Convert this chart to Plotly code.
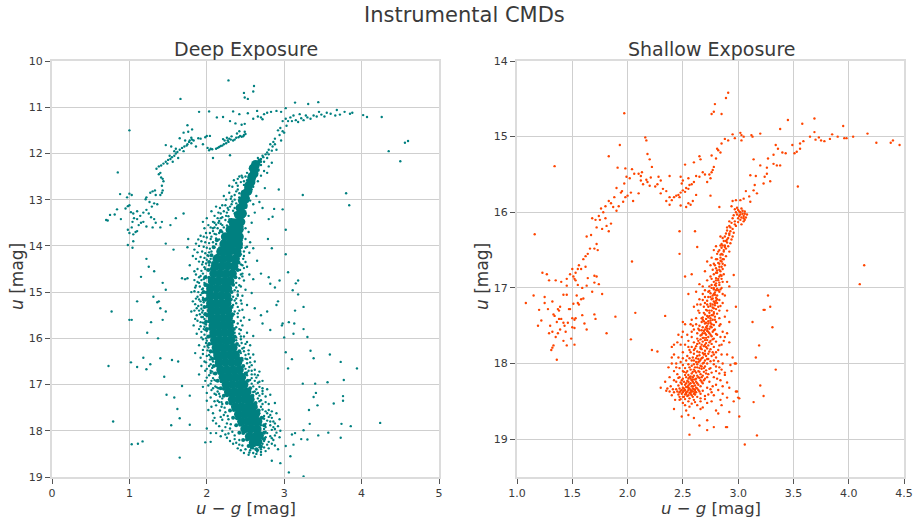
import plotly.graph_objects as go

# Every pair below.
# The saturated cores cannot be resolved into single stars, so they are given
# as hand-read band samples drawn with larger markers (deep_core, deep_mid).

deep_upper = [
(2.28,10.42),(2.61,10.54),(2.60,10.66),(2.48,10.69),(2.49,10.79),(2.53,10.82),(1.66,10.82),(3.14,10.90),(3.02,11.02),
(1.90,11.10),(2.03,11.09),(2.34,11.09),(2.65,11.08),(2.53,11.13),(2.42,11.15),(2.13,11.22),(2.21,11.21),(1.75,11.39),(2.30,11.30),(2.37,11.35),
(2.45,11.38),(2.49,11.36),(2.60,11.25),(2.70,11.22),(2.74,11.15),(2.78,11.12),(2.83,11.10),(2.90,11.08),(2.96,11.10),(2.72,11.26),(2.66,11.20),
(1.76,11.53),(1.70,11.55),(1.81,11.48),(1.65,11.67),(1.72,11.72),(1.54,11.85),(1.47,11.82),(1.00,11.50),(0.85,12.41),
(2.49,11.53),(2.50,11.58),(2.48,11.60),(2.47,11.63),(2.45,11.64),(2.43,11.62),(2.41,11.65),(2.38,11.66),(2.36,11.70),(2.34,11.72),(2.31,11.70),
(2.29,11.68),(2.27,11.72),(2.25,11.78),(2.28,11.75),(2.22,11.80),(2.20,11.83),(2.18,11.84),(2.16,11.86),(2.14,11.88),(2.12,11.90),(2.23,11.72),
(2.21,11.69),(2.26,11.66),(2.32,11.63),(2.39,11.57),(2.42,11.52),(2.07,11.91),(2.05,11.90),(2.03,11.93),(2.01,11.88),(2.08,12.10),(2.30,12.04),
(2.00,11.62),(2.04,11.62),(1.98,11.65),(1.92,11.68),(1.89,11.67),(1.83,11.72),(1.81,11.70),(1.80,11.66),(1.78,11.72),(1.77,11.75),(1.75,11.80),
(1.74,11.83),(1.71,11.85),(1.68,11.88),(1.65,11.92),(1.62,11.97),(1.60,12.00),(1.58,12.05),(1.55,12.08),(1.53,12.12),(1.50,12.14),(1.47,12.18),
(1.44,12.22),(1.41,12.26),(1.38,12.28),(1.35,12.33),(1.52,12.05),(1.58,11.95),(1.63,12.10),(1.56,12.18),(1.49,12.22),(1.95,11.80),(1.86,11.85),(1.80,11.78),(1.70,11.95),(1.60,11.90),
(1.40,12.42),(1.38,12.45),(1.41,12.52),(1.43,12.55),(1.44,12.60),(1.42,12.70),(1.43,12.80),(1.42,12.85),(1.40,12.90),(1.33,12.80),(1.30,12.82),
(1.27,12.85),(1.34,12.90),(1.22,12.95),(1.21,12.99),(1.26,13.05),(1.32,13.08),(1.29,13.15),(1.36,13.10),(0.88,12.88),(0.97,12.95),(1.00,12.87),(1.03,12.90),
(0.95,13.19),(1.00,13.12),(0.98,13.14),(1.02,13.27),(1.05,13.30),(1.10,13.25),(1.14,13.35),(1.18,13.28),(1.22,13.22),(1.25,13.30),(1.28,13.38),(1.32,13.42),
(1.06,13.40),(1.04,13.48),(1.10,13.42),(1.15,13.50),(1.18,13.48),(1.22,13.58),(1.12,13.55),(1.30,13.60),(1.34,13.50),(1.03,13.60),(0.98,13.65),(1.00,13.72),(1.05,13.75),(1.08,13.70),(1.10,13.68),
(0.70,13.44),(0.72,13.45),(0.75,13.33),(0.81,13.32),(0.84,13.21),(0.89,13.42),(0.98,13.98),(1.05,13.90),(1.04,14.04),(1.40,13.60),
(1.42,13.48),(1.53,13.55),(1.60,13.40),(1.70,13.30),(1.95,13.48),(1.76,13.85),(1.47,13.95),(1.57,14.08),(1.75,14.03),(3.02,13.65),(2.85,13.37),(2.80,13.42),(2.98,13.21),
(2.84,14.05),(2.79,13.85),(2.87,13.20),(2.58,12.78),(2.93,12.78),(2.75,12.75),(2.68,13.05),(2.72,13.18),
(3.10,11.30),(3.18,11.32),(3.25,11.28),(3.30,11.22),(3.38,11.18),(3.45,11.10),(3.52,11.20),(3.60,11.14),(3.66,11.18),(3.72,11.16),(3.78,11.10),(3.85,11.14),(3.88,11.12),(3.20,11.15),(3.31,10.93),(3.44,10.89),(3.68,11.06),
(4.02,11.17),(4.07,11.21),(4.26,11.21),(4.35,11.95),(4.50,12.17),(4.56,11.77),(4.60,11.73),(3.80,12.86),(3.84,13.12),(3.24,12.90),(3.03,11.40),(3.00,11.55),
(2.95,11.45),(2.92,11.50),(2.98,11.30),(3.02,11.25),(2.94,11.60),(2.88,11.68),(2.86,11.75),(2.82,11.80),(2.85,11.85),(2.80,11.92),(2.78,11.98),(2.76,12.02),(2.72,12.05),(2.78,12.10),(2.70,12.12),(2.68,12.20),(2.74,12.18),(2.70,12.25),(2.62,12.28),(2.60,12.35),
(2.58,12.40),(2.55,12.45),(2.50,12.50),(2.45,12.48),(2.42,12.50),(2.48,12.60),(2.40,12.70),(2.38,12.82),(2.32,12.93),(2.28,13.22),(2.22,13.25),(2.25,13.35),(2.18,13.40),(2.15,13.50),(2.10,13.60),(2.08,13.68),(2.12,13.75),(2.05,13.85),(2.20,13.55),(2.28,13.48),
]

deep_halo = [
(1.78,14.42),(1.84,14.55),(1.92,14.65),(1.95,14.35),(2.02,14.22),(2.06,14.12),(2.00,14.30),(1.98,14.50),(1.90,14.80),(1.85,14.90),(1.80,15.00),(1.88,15.10),(1.82,15.20),(1.94,15.02),(1.96,15.22),(1.87,15.35),(1.80,15.42),(1.91,15.48),(1.85,15.58),(1.92,15.65),(1.95,15.40),
(1.83,15.72),(1.90,15.80),(1.97,15.75),(1.87,15.90),(1.93,15.98),(2.00,16.05),(1.90,16.15),(1.95,16.25),(2.02,16.20),(1.85,16.32),(1.92,16.42),(1.97,16.50),(2.05,16.40),(1.93,16.60),(1.98,16.70),(2.05,16.75),(1.90,16.78),(2.00,16.85),(2.06,16.92),(1.95,17.05),
(2.00,17.18),(2.05,17.28),(2.10,17.20),(2.08,17.08),(2.14,17.15),(2.00,17.35),(2.02,17.55),(2.08,17.62),(2.12,17.45),(2.16,17.38),(2.20,17.42),(2.24,17.60),(2.10,17.72),(2.18,17.70),(2.28,17.75),(2.00,17.95),(2.05,18.05),(2.12,18.05),(2.18,18.12),(2.26,18.15),(2.30,17.95),(1.98,18.25),(2.05,18.24),(2.36,18.18),(2.42,18.30),
(2.32,14.05),(2.48,14.22),(2.50,14.35),(2.52,14.45),(2.46,14.60),(2.55,14.62),(2.60,14.72),(2.48,14.75),(2.42,14.85),(2.50,14.95),(2.58,15.02),(2.40,15.05),(2.36,15.18),(2.45,15.25),(2.52,15.28),(2.62,15.35),(2.42,15.40),(2.35,15.48),(2.48,15.55),(2.55,15.60),
(2.40,15.68),(2.32,15.75),(2.44,15.82),(2.52,15.88),(2.60,15.95),(2.38,15.98),(2.45,16.10),(2.56,16.15),(2.36,16.22),(2.48,16.28),(2.60,16.35),(2.42,16.42),(2.52,16.45),(2.62,16.50),(2.48,16.60),(2.58,16.70),(2.68,16.72),(2.52,16.80),(2.64,16.85),(2.72,16.92),
(2.58,16.98),(2.68,17.05),(2.78,17.10),(2.62,17.15),(2.72,17.20),(2.82,17.22),(2.66,17.30),(2.76,17.38),(2.88,17.40),(2.70,17.48),(2.80,17.55),(2.90,17.62),(2.74,17.68),(2.84,17.72),(2.94,17.75),(2.76,17.85),(2.86,17.92),(2.95,18.00),(2.78,18.05),(2.88,18.10),(2.74,18.22),(2.84,18.28),(2.80,18.38),(2.65,18.45),(2.55,18.47),(2.70,18.52),
(2.26,14.10),(2.38,14.28),(2.15,14.95),(1.75,14.70),(1.72,14.72),(1.68,14.70),(2.55,14.15),(2.65,14.32),(2.70,14.60),(2.80,14.68),(2.82,14.82),(2.88,14.90),(2.94,14.75),(2.92,15.20),(2.90,15.28),(2.78,15.42),(2.70,15.50),(2.72,15.68),(2.82,15.82),(2.98,15.68),
]

# second reading of the crowded halo, band by band from the top of the sequence down
deep_halo_dense = [
(2.62,12.22),(2.66,12.30),(2.70,12.18),(2.64,12.40),(2.56,12.32),(2.52,12.42),(2.60,12.48),(2.48,12.68),(2.44,12.62),(2.52,12.58),(2.40,12.78),(2.46,12.82),(2.50,12.74),(2.36,12.90),(2.42,12.95),(2.48,12.98),(2.33,13.04),(2.38,13.08),(2.30,13.15),(2.36,13.18),
(2.26,13.28),(2.34,13.24),(2.20,13.38),(2.28,13.36),(2.16,13.46),(2.24,13.44),(2.32,13.42),(2.12,13.54),(2.18,13.52),(2.26,13.56),(2.08,13.62),(2.14,13.62),(2.22,13.60),(2.28,13.63),(2.04,13.72),(2.10,13.74),(2.16,13.72),(2.20,13.70),(2.00,13.82),(2.06,13.80),(2.12,13.84),(2.16,13.86),
(1.98,13.92),(2.03,13.94),(2.08,13.92),(2.12,13.96),(1.96,14.02),(2.00,14.04),(2.04,14.06),(2.08,14.02),(1.94,14.12),(1.98,14.16),(2.03,14.14),(1.92,14.24),(1.97,14.26),(2.01,14.20),(2.05,14.28),(1.90,14.34),(1.94,14.40),(1.99,14.38),(2.03,14.42),(1.88,14.50),(1.93,14.54),(1.97,14.46),(2.01,14.52),
(1.86,14.62),(1.90,14.68),(1.95,14.60),(1.99,14.66),(1.84,14.74),(1.88,14.78),(1.93,14.74),(1.97,14.80),(1.86,14.86),(1.91,14.88),(1.95,14.92),(1.98,14.86),(1.84,14.98),(1.89,15.00),(1.92,15.06),(1.97,15.00),(1.86,15.14),(1.90,15.16),(1.95,15.12),(1.98,15.18),
(1.85,15.26),(1.89,15.30),(1.93,15.28),(1.97,15.32),(1.84,15.40),(1.90,15.40),(1.94,15.44),(1.98,15.46),(1.87,15.50),(1.93,15.54),(1.97,15.58),(2.00,15.52),(1.88,15.62),(1.95,15.66),(1.99,15.70),(1.92,15.74),(1.96,15.80),(2.00,15.84),(1.93,15.86),(1.97,15.92),(2.02,15.96),
(1.95,16.02),(1.99,16.10),(2.03,16.12),(1.97,16.18),(2.01,16.26),(2.05,16.30),(1.95,16.34),(2.00,16.38),(2.04,16.46),(2.08,16.50),(1.99,16.52),(2.03,16.60),(2.07,16.64),(2.00,16.66),(2.05,16.70),(2.09,16.76),(2.03,16.80),(2.08,16.86),(2.12,16.92),(2.05,16.98),(2.11,17.04),(2.15,17.08),
(2.12,17.22),(2.17,17.26),(2.20,17.30),(2.14,17.35),(2.19,17.48),(2.23,17.50),(2.17,17.56),(2.22,17.66),(2.27,17.68),(2.20,17.76),(2.26,17.84),(2.31,17.86),(2.24,17.92),(2.33,18.02),(2.36,18.10),(2.28,18.06),(2.42,18.20),(2.38,18.26),(2.46,18.32),(2.50,18.40),(2.56,18.42),(2.60,18.48),(2.64,18.50),(2.66,18.42),(2.70,18.40),
(2.30,14.16),(2.44,14.18),(2.47,14.28),(2.44,14.40),(2.48,14.48),(2.43,14.52),(2.46,14.66),(2.42,14.70),(2.38,14.80),(2.44,14.88),(2.36,14.96),(2.40,14.98),(2.46,15.08),(2.34,15.10),(2.38,15.14),(2.44,15.18),(2.34,15.28),(2.40,15.32),(2.46,15.38),(2.36,15.42),
(2.33,15.52),(2.40,15.54),(2.44,15.62),(2.35,15.64),(2.38,15.76),(2.46,15.72),(2.36,15.88),(2.42,15.90),(2.48,15.96),(2.38,16.04),(2.44,16.02),(2.50,16.12),(2.42,16.16),(2.48,16.20),(2.54,16.26),(2.44,16.32),(2.50,16.36),(2.56,16.42),(2.46,16.48),(2.52,16.54),(2.58,16.58),
(2.50,16.66),(2.55,16.62),(2.62,16.68),(2.52,16.74),(2.58,16.78),(2.66,16.80),(2.56,16.90),(2.62,16.92),(2.68,16.94),(2.60,17.04),(2.64,17.10),(2.72,17.08),(2.64,17.20),(2.68,17.24),(2.76,17.26),(2.68,17.36),(2.72,17.42),(2.80,17.42),(2.72,17.54),(2.76,17.58),(2.84,17.58),
(2.74,17.74),(2.80,17.70),(2.86,17.80),(2.76,17.92),(2.82,17.88),(2.88,17.96),(2.76,18.02),(2.82,18.12),(2.76,18.14),(2.72,18.28),(2.78,18.30),(2.84,18.16),(2.68,18.36),(2.74,18.36),
]

# third reading: the speckled zone right next to the solid core
deep_mid = [
(2.68,12.15),(2.64,12.22),(2.66,12.36),(2.60,12.40),(2.56,12.60),(2.60,12.58),(2.50,12.80),(2.54,12.76),(2.44,13.02),(2.52,13.03),(2.41,13.14),(2.50,13.16),(2.37,13.30),(2.47,13.36),(2.30,13.44),(2.36,13.56),(2.45,13.58),
(2.18,13.68),(2.28,13.74),(2.42,13.72),(2.13,13.88),(2.21,13.90),(2.32,13.88),(2.44,13.88),(2.09,14.03),(2.17,14.05),(2.27,14.02),(2.44,14.03),(2.06,14.20),(2.14,14.21),(2.42,14.20),(2.03,14.35),(2.08,14.37),(2.41,14.36),(2.02,14.52),(2.06,14.50),(2.40,14.52),
(1.98,14.68),(2.03,14.69),(2.37,14.68),(1.98,14.84),(2.01,14.85),(2.34,14.84),(1.96,15.00),(2.00,15.01),(2.32,15.00),(1.96,15.16),(2.00,15.15),(2.31,15.16),(1.97,15.32),(2.01,15.31),(2.32,15.32),(1.98,15.48),(2.02,15.49),(2.33,15.48),
(1.99,15.64),(2.03,15.63),(2.34,15.64),(2.00,15.80),(2.04,15.79),(2.35,15.80),(2.02,15.96),(2.05,15.95),(2.36,15.96),(2.03,16.12),(2.07,16.11),(2.39,16.12),(2.05,16.28),(2.09,16.29),(2.42,16.28),(2.07,16.44),(2.11,16.43),(2.45,16.44),
(2.09,16.60),(2.13,16.59),(2.47,16.60),(2.11,16.76),(2.16,16.75),(2.50,16.76),(2.14,16.92),(2.19,16.93),(2.53,16.92),(2.18,17.08),(2.22,17.09),(2.56,17.08),(2.22,17.24),(2.26,17.23),(2.59,17.24),(2.26,17.40),(2.31,17.41),(2.63,17.40),
(2.30,17.56),(2.35,17.55),(2.67,17.56),(2.34,17.72),(2.39,17.73),(2.71,17.72),(2.38,17.88),(2.43,17.87),(2.74,17.88),(2.42,18.04),(2.47,18.05),(2.74,18.04),(2.47,18.20),(2.52,18.19),(2.74,18.18),(2.54,18.33),(2.58,18.36),(2.70,18.34),(2.64,18.40),
]

# isolated dots in the wedge at u = 13 to 14.2, left of the upper branch, and beside the branch
deep_wedge = [
(2.40,12.55),(2.33,12.72),(2.29,12.85),(2.25,13.00),(2.20,13.12),(2.32,13.10),(2.27,13.18),(2.15,13.28),(2.10,13.35),(2.18,13.30),(2.08,13.48),(2.02,13.55),(1.97,13.62),(2.05,13.60),(1.99,13.72),(1.92,13.78),(1.96,13.80),(1.89,13.86),(1.93,13.90),(1.86,13.95),
(1.90,14.00),(1.84,14.08),(1.88,14.14),(1.82,14.22),(1.86,14.28),(2.24,13.12),(2.36,13.00),(2.31,12.98),(2.42,12.86),(2.38,12.64),(2.46,12.52),(2.35,12.58),(2.29,12.70),(2.22,12.92),(2.17,13.18),(2.12,13.15),(2.06,13.25),(2.00,13.40),(2.14,13.40),(2.10,13.50),
(2.50,13.62),(2.54,13.70),(2.50,13.85),(2.56,13.92),(2.52,14.02),(2.60,14.05),(2.58,13.50),(2.54,13.35),(2.62,13.28),(2.60,13.10),(2.56,13.02),(2.64,12.92),(2.60,12.72),(2.66,12.60),(2.70,12.48),(2.74,12.38),(2.80,12.28),(2.78,12.42),(2.84,12.20),
(2.66,12.10),(2.73,12.08),(2.80,12.02),(2.84,11.94),(2.88,11.80),(2.90,11.92),(2.96,11.72),(2.98,11.52),(3.05,11.30),(3.08,11.22),(3.12,11.18),(3.15,11.28),(3.22,11.24),(3.28,11.18),(3.34,11.25),(3.42,11.20),(3.48,11.16),(3.55,11.12),
]

# fourth reading: the wide lower-right flank of the deep sequence
deep_flank = [
(2.78,17.62),(2.82,17.66),(2.88,17.84),(2.92,17.90),(2.84,17.98),(2.90,18.04),(2.94,18.14),(2.86,18.20),(2.80,18.24),(2.88,18.32),(2.76,18.44),(2.70,18.46),(2.62,18.56),(2.54,18.52),(2.48,18.48),(2.44,18.42),(2.40,18.38),(2.34,18.28),(2.30,18.22),(2.24,18.08),
(2.20,18.00),(2.16,17.90),(2.12,17.84),(2.08,17.78),(2.06,17.48),(2.10,17.36),(2.06,17.12),(2.02,17.02),(1.98,16.92),(2.72,17.72),(2.78,17.78),(2.70,17.88),(2.74,17.96),(2.82,17.80),(2.70,18.10),(2.72,18.18),(2.66,18.30),(2.60,18.38),(2.68,17.62),(2.64,17.50),
(2.62,17.42),(2.70,17.34),(2.66,17.18),(2.72,17.14),(2.60,17.16),(2.66,16.96),(2.58,16.86),(2.62,16.78),(2.54,16.70),(2.56,16.52),(2.50,16.44),(2.54,16.34),(2.46,16.22),(2.52,16.08),(2.44,15.96),(2.42,15.80),(2.40,15.46),(2.38,15.24),(2.40,15.08),(2.38,14.90),
(2.44,14.62),(2.46,14.42),(2.48,14.12),(2.50,14.04),(1.96,14.72),(1.94,14.94),(1.92,15.20),(1.93,15.36),(1.95,15.54),(1.97,15.68),(1.98,15.82),(1.99,16.00),(2.01,16.16),(2.03,16.36),(2.05,16.56),(2.07,16.72),(2.10,16.90),(2.13,17.06),(2.16,17.20),(2.19,17.38),
]

deep_field = [
(1.00,15.60),(0.73,16.60),(0.77,15.42),(0.79,17.80),(1.03,18.29),(1.11,18.28),(1.17,18.23),(1.65,18.58),(1.54,17.88),(1.78,17.87),(1.65,17.73),
(1.22,14.28),(1.25,14.45),(1.32,14.55),(1.15,14.67),(1.43,14.80),(1.47,14.95),(1.31,15.10),(1.10,15.20),(1.03,15.60),(1.36,15.22),(1.47,15.42),(1.38,15.20),(1.40,15.35),
(1.43,15.60),(1.28,15.65),(1.23,15.88),(1.37,16.00),(1.18,16.42),(1.02,16.52),(1.10,16.62),(1.22,16.67),(1.27,16.56),(1.40,16.43),(1.55,16.47),(1.63,16.50),(1.45,16.83),(1.68,17.03),(1.48,17.22),(1.58,17.28),(1.78,17.24),(1.62,17.53),
(3.02,14.18),(3.05,14.57),(3.11,14.96),(3.15,14.81),(3.18,14.75),(3.18,15.05),(3.14,15.40),(3.25,15.32),(3.06,15.65),(3.13,15.68),(3.25,15.80),(3.12,15.90),(3.00,15.98),(2.97,15.72),(3.02,16.30),(3.10,16.45),(3.05,16.65),(3.30,15.97),
(3.34,16.27),(3.38,16.43),(3.59,16.35),(3.73,16.51),(3.94,16.65),(3.77,16.90),(3.56,16.95),(3.40,16.98),(3.24,16.98),(3.41,17.18),(3.38,17.27),(3.43,17.45),(3.32,17.55),(3.64,17.41),(3.76,17.25),(3.76,17.35),(3.74,17.85),(3.86,17.90),(4.24,17.83),
(3.33,17.85),(3.25,17.99),(3.10,18.08),(3.14,18.05),(3.22,18.18),(3.30,18.19),(3.44,18.10),(3.57,18.04),(3.73,18.15),(3.12,18.30),(3.02,18.33),(3.08,18.55),(2.95,18.70),(3.06,18.90),(3.25,18.99),(2.84,18.65),(2.92,18.40),
]

deep_core = [
(2.60,12.32),(2.63,12.24),(2.58,12.52),(2.61,12.44),(2.54,12.70),(2.57,12.62),(2.49,12.88),(2.53,12.82),(2.46,13.02),(2.50,12.98),(2.43,13.18),(2.47,13.12),(2.41,13.33),(2.46,13.30),
(2.34,13.50),(2.39,13.50),(2.44,13.48),(2.30,13.65),(2.36,13.66),(2.42,13.64),(2.24,13.80),(2.30,13.82),(2.37,13.80),(2.42,13.80),(2.22,13.96),(2.29,13.97),(2.36,13.95),(2.41,13.96),
(2.18,14.12),(2.25,14.12),(2.32,14.10),(2.39,14.12),(2.13,14.28),(2.21,14.28),(2.29,14.27),(2.37,14.28),(2.11,14.44),(2.19,14.44),(2.27,14.43),(2.35,14.44),
(2.09,14.60),(2.17,14.60),(2.25,14.60),(2.33,14.60),(2.07,14.76),(2.15,14.76),(2.23,14.76),(2.30,14.76),(2.05,14.92),(2.13,14.92),(2.21,14.92),(2.27,14.92),
(2.05,15.08),(2.12,15.08),(2.19,15.08),(2.26,15.08),(2.05,15.24),(2.12,15.24),(2.19,15.24),(2.26,15.24),(2.06,15.40),(2.13,15.40),(2.20,15.40),(2.27,15.40),
(2.07,15.56),(2.14,15.56),(2.21,15.56),(2.28,15.56),(2.08,15.72),(2.15,15.72),(2.22,15.72),(2.29,15.72),(2.09,15.88),(2.16,15.88),(2.23,15.88),(2.30,15.88),
(2.10,16.04),(2.17,16.04),(2.24,16.04),(2.31,16.04),(2.12,16.20),(2.19,16.20),(2.26,16.20),(2.34,16.20),(2.14,16.36),(2.22,16.36),(2.30,16.36),(2.37,16.36),
(2.16,16.52),(2.24,16.52),(2.32,16.52),(2.40,16.52),(2.18,16.68),(2.26,16.68),(2.34,16.68),(2.42,16.68),(2.21,16.84),(2.29,16.84),(2.37,16.84),(2.45,16.84),
(2.25,17.00),(2.33,17.00),(2.41,17.00),(2.48,17.00),(2.28,17.16),(2.36,17.16),(2.44,17.16),(2.52,17.16),(2.33,17.32),(2.41,17.32),(2.49,17.32),(2.56,17.32),
(2.37,17.48),(2.45,17.48),(2.53,17.48),(2.60,17.48),(2.41,17.64),(2.49,17.64),(2.57,17.64),(2.63,17.64),(2.45,17.80),(2.53,17.80),(2.61,17.80),(2.66,17.80),
(2.49,17.96),(2.57,17.96),(2.65,17.96),(2.55,18.12),(2.63,18.12),(2.68,18.10),(2.60,18.26),(2.66,18.24),
]

shallow_upper = [
(2.91,14.42),(2.89,14.49),(2.79,14.57),(2.78,14.67),(2.76,14.70),(2.85,14.70),(1.97,14.69),(1.34,15.39),(1.16,16.29),(3.45,14.78),(3.58,14.83),(3.69,14.76),(3.95,14.86),(3.69,14.94),(4.17,14.96),(4.04,15.00),(4.25,15.08),(4.40,15.05),(4.38,15.08),(4.46,15.11),
(3.98,15.02),(3.96,15.02),(3.90,15.00),(3.85,14.97),(3.83,15.03),(3.78,15.06),(3.75,15.05),(3.73,15.01),(3.70,15.04),(3.65,15.00),(3.59,15.06),(3.56,15.09),(3.56,15.16),(3.53,15.20),(3.51,15.22),(3.49,15.11),(3.43,15.22),(3.40,15.21),(3.36,15.16),(3.34,15.11),(3.32,15.24),(3.27,15.29),(3.14,15.30),
(3.20,15.38),(3.26,15.41),(3.32,15.36),(3.35,15.38),(3.38,15.38),(3.26,15.49),(3.24,15.53),(3.11,15.51),(3.16,15.52),(3.29,15.59),(3.23,15.62),(3.15,15.64),(3.14,15.71),(3.07,15.72),(3.17,15.75),(3.10,15.79),(3.05,15.82),(3.11,15.86),(3.02,15.84),(2.98,15.84),(2.95,15.85),(3.54,15.66),(4.14,16.70),(4.10,16.95),
(3.38,14.90),(3.20,14.96),(3.12,14.98),(3.13,15.00),(3.05,15.00),(3.03,15.05),(2.97,15.02),(3.02,14.95),(3.03,14.98),(2.95,14.97),(2.91,15.05),(2.88,15.03),(2.85,15.09),(2.82,15.18),(2.81,15.16),(2.84,15.21),
(2.76,15.25),(2.80,15.29),(2.60,15.34),(2.65,15.26),(2.66,15.30),(2.52,15.37),(2.78,15.40),(2.77,15.44),(2.74,15.50),(2.76,15.47),(2.75,15.55),(2.72,15.60),(2.70,15.50),(2.68,15.47),(2.65,15.53),(2.62,15.52),(2.60,15.60),(2.58,15.63),(2.55,15.55),(2.50,15.58),(2.48,15.53),(2.49,15.62),(2.56,15.64),
(2.53,15.68),(2.50,15.71),(2.48,15.74),(2.47,15.80),(2.44,15.78),(2.46,15.77),(2.52,15.73),(2.55,15.69),(2.32,15.69),(2.30,15.75),(2.35,15.72),(2.38,15.80),(2.35,15.85),(2.40,15.84),(2.42,15.80),(2.62,15.77),(2.59,15.85),(2.57,15.90),(2.53,15.93),(2.55,15.88),(2.75,15.78),
(2.83,15.93),(2.48,15.91),(2.05,15.85),(1.90,15.98),(2.10,15.75),(2.28,15.53),(2.21,15.54),(2.17,15.57),(2.14,15.63),(2.27,15.63),(2.25,15.66),(2.20,15.65),(2.18,15.60),(2.12,15.58),(2.12,15.52),(2.10,15.49),(2.06,15.49),(2.02,15.55),(1.99,15.53),(1.97,15.62),(1.95,15.72),(1.90,15.68),
(2.30,15.58),(2.38,15.52),(2.22,15.40),(2.20,15.30),(2.17,15.05),(2.16,15.01),(2.18,15.23),(1.93,15.11),(1.83,15.26),(1.91,15.41),(1.98,15.42),(2.13,15.47),(2.04,15.43),(1.94,15.74),(1.88,15.80),(1.85,15.88),(1.98,15.80),(2.00,15.78),(2.03,15.74),(1.96,15.86),(1.92,15.92),(1.87,15.93),
(1.80,15.92),(1.76,15.95),(1.83,15.85),(1.78,16.00),(1.74,16.05),(1.71,16.10),(1.75,16.10),(1.80,16.08),(1.85,16.15),(1.81,16.18),(1.77,16.22),(1.72,16.20),(1.68,16.08),(1.83,16.25),(1.67,16.30),(1.63,16.32),
(1.72,16.42),(1.70,16.48),(1.66,16.48),(1.73,16.50),(1.64,16.55),(1.62,16.58),(1.60,16.62),(1.56,16.70),(1.55,16.75),(1.53,16.80),(1.50,16.75),(1.51,16.85),(1.48,16.82),(1.45,16.88),(1.40,16.92),(1.53,16.90),(1.62,16.72),(1.58,16.75),(1.35,16.90),
(2.47,16.25),(2.61,16.25),(2.38,15.90),(2.47,16.55),(2.63,16.46),(2.04,16.65),(1.72,16.85),
]

shallow_column = [
(3.00,15.97),(3.02,16.00),(3.04,16.02),(3.06,15.99),(3.08,16.03),(3.01,16.05),(3.03,15.95),(3.05,16.05),(3.07,16.07),(2.99,16.03),(2.98,16.00),(3.04,15.98),(3.06,16.10),(3.02,16.10),(3.00,16.13),(2.97,16.12),(3.05,16.12),(3.03,16.16),(2.98,16.18),(2.95,16.08),
(2.92,16.18),(2.95,16.22),(2.90,16.24),(2.93,16.25),(2.96,16.27),(2.89,16.28),(2.92,16.30),(2.95,16.32),(2.88,16.32),(2.91,16.34),(2.94,16.36),(2.87,16.38),(2.90,16.40),(2.85,16.42),(2.93,16.41),(2.88,16.44),(2.91,16.45),(2.85,16.47),(2.89,16.48),(2.83,16.50),
(2.87,16.52),(2.92,16.52),(2.85,16.55),(2.81,16.55),(2.89,16.58),(2.84,16.60),(2.87,16.62),(2.80,16.62),(2.85,16.65),(2.82,16.67),(2.78,16.68),(2.88,16.70),(2.83,16.72),(2.80,16.74),(2.86,16.75),(2.77,16.76),(2.84,16.78),(2.81,16.80),(2.87,16.82),(2.78,16.82),
(2.83,16.85),(2.80,16.87),(2.75,16.85),(2.85,16.88),(2.82,16.90),(2.78,16.92),(2.72,16.90),(2.86,16.92),(2.80,16.94),(2.83,16.96),(2.76,16.96),(2.74,16.98),(2.85,17.00),(2.81,17.01),(2.78,17.02),(2.70,17.03),(2.83,17.05),(2.79,17.06),(2.75,17.07),(2.86,17.08),
(2.81,17.10),(2.77,17.10),(2.73,17.12),(2.88,17.10),(2.80,17.13),(2.76,17.15),(2.83,17.16),(2.72,17.17),(2.78,17.18),(2.81,17.20),(2.75,17.21),(2.70,17.20),(2.79,17.23),(2.84,17.24),(2.73,17.25),(2.77,17.26),(2.80,17.28),(2.76,17.30),(2.71,17.29),(2.83,17.30),
(2.78,17.32),(2.74,17.33),(2.69,17.33),(2.81,17.34),(2.76,17.36),(2.72,17.37),(2.79,17.38),(2.75,17.40),(2.68,17.39),(2.83,17.40),(2.71,17.41),(2.77,17.42),(2.73,17.44),(2.80,17.45),(2.67,17.45),(2.75,17.46),(2.70,17.47),(2.78,17.49),(2.72,17.50),(2.83,17.50),
(2.68,17.52),(2.76,17.52),(2.74,17.54),(2.70,17.55),(2.79,17.55),(2.65,17.56),(2.72,17.57),(2.77,17.58),(2.68,17.60),(2.74,17.60),(2.80,17.61),(2.71,17.62),(2.66,17.63),(2.76,17.64),(2.73,17.65),(2.69,17.66),(2.78,17.67),(2.63,17.67),(2.72,17.69),(2.75,17.70),
(2.68,17.71),(2.80,17.71),(2.65,17.73),(2.71,17.73),(2.76,17.74),(2.73,17.76),(2.69,17.77),(2.62,17.77),(2.78,17.78),(2.66,17.80),(2.72,17.80),(2.75,17.81),(2.70,17.83),(2.82,17.82),(2.63,17.84),(2.77,17.85),(2.68,17.86),(2.73,17.87),(2.60,17.87),(2.65,17.89),
(2.71,17.90),(2.76,17.90),(2.68,17.92),(2.80,17.92),(2.62,17.93),(2.73,17.94),(2.66,17.95),(2.70,17.96),(2.58,17.96),(2.75,17.97),(2.64,17.98),(2.68,18.00),(2.72,18.00),(2.60,18.01),(2.78,18.01),(2.66,18.03),(2.70,18.04),(2.63,18.05),(2.56,18.05),(2.75,18.06),
(2.67,18.07),(2.60,18.08),(2.71,18.09),(2.64,18.10),(2.54,18.10),(2.69,18.11),(2.80,18.10),(2.62,18.12),(2.58,18.13),(2.66,18.14),(2.73,18.14),(2.52,18.15),(2.60,18.16),(2.68,18.16),(2.64,18.18),(2.56,18.18),(2.78,18.18),(2.62,18.20),(2.70,18.20),(2.50,18.20),
(2.58,18.22),(2.66,18.22),(2.54,18.23),(2.62,18.24),(2.74,18.24),(2.48,18.25),(2.60,18.26),(2.68,18.26),(2.56,18.27),(2.52,18.28),(2.64,18.28),(2.80,18.28),(2.46,18.29),(2.58,18.30),(2.66,18.30),(2.54,18.31),(2.62,18.32),(2.50,18.32),(2.72,18.32),(2.56,18.33),
(2.60,18.34),(2.44,18.34),(2.52,18.35),(2.64,18.35),(2.48,18.36),(2.58,18.36),(2.68,18.36),(2.54,18.37),(2.62,18.38),(2.50,18.38),(2.42,18.38),(2.76,18.38),(2.56,18.39),(2.60,18.40),(2.66,18.40),(2.52,18.41),(2.46,18.41),(2.58,18.42),(2.54,18.43),(2.50,18.44),
(2.63,18.44),(2.40,18.42),(2.56,18.46),(2.52,18.47),(2.48,18.47),(2.60,18.48),(2.70,18.47),(2.55,18.50),(2.66,18.50),(2.50,18.52),(2.58,18.53),(2.63,18.55),(2.43,18.48),(2.72,18.52),(2.78,18.42),(2.82,18.35),(2.86,18.30),(2.90,18.25),(2.84,18.22),(2.88,18.15),
(2.45,18.14),(2.42,18.22),(2.39,18.30),(2.36,18.33),(2.44,18.05),(2.40,18.00),(2.48,17.98),(2.50,18.02),(2.46,17.92),(2.42,17.88),(2.50,17.85),(2.54,17.90),(2.48,17.75),(2.52,17.75),(2.55,17.70),(2.58,17.65),(2.60,17.55),(2.57,17.48),(2.52,17.48),(2.62,17.40),
(2.58,17.42),(2.64,17.30),(2.63,17.22),(2.60,17.25),(2.65,17.15),(2.55,17.08),(2.62,17.05),(2.68,17.08),(2.68,16.98),(2.65,16.95),(2.52,16.85),(2.58,16.82),(2.70,16.78),(2.75,16.70),(2.76,16.60),(2.72,16.65),(2.78,16.50),(2.80,16.45),(2.84,16.32),(2.92,16.12),
(2.85,17.75),(2.88,17.65),(2.90,17.60),(2.86,17.58),(2.84,17.48),(2.92,17.72),(2.95,17.92),(2.90,17.88),(2.86,18.00),(2.83,18.05),(2.93,18.02),(2.88,18.12),(2.97,18.00),(2.94,18.10),(2.98,18.37),(3.00,18.45),(2.96,18.50),(2.85,18.55),(2.92,18.64),(2.80,18.62),
(2.82,18.66),(3.01,18.70),(2.72,18.75),(2.65,18.82),(2.72,18.88),(2.78,18.84),(2.89,18.84),(2.90,18.84),(2.56,18.94),(3.17,18.95),(3.06,19.07),(2.49,18.70),(2.55,18.68),(2.60,18.72),(2.42,18.60),(2.53,18.62),(2.66,18.60),
(2.98,17.25),(2.92,17.45),(2.90,16.92),(2.92,16.98),(2.96,16.83),(2.50,17.45),(2.49,17.65),(2.45,17.72),(2.42,17.75),(2.40,17.78),(2.22,17.82),(2.27,17.84),(2.34,17.37),(2.07,17.33),(2.03,17.68),(1.89,17.38),(1.81,17.60),
(3.13,17.45),(3.27,17.10),(3.29,17.25),(3.23,17.29),(3.24,17.29),(3.31,17.52),(3.19,17.76),(3.16,17.92),(3.34,18.08),(3.20,18.29),(3.23,18.43),(3.14,18.51),(3.01,18.46),(2.99,18.37),(2.98,18.00),
]

# second reading of the crowded foot of the shallow sequence
shallow_foot = [
(2.47,18.18),(2.53,18.12),(2.57,18.17),(2.49,18.27),(2.55,18.24),(2.51,18.33),(2.47,18.33),(2.45,18.37),(2.53,18.38),(2.49,18.40),(2.57,18.40),(2.51,18.44),(2.55,18.42),(2.59,18.44),(2.47,18.44),(2.61,18.35),(2.59,18.30),(2.55,18.29),(2.57,18.35),(2.53,18.31),
(2.61,18.29),(2.63,18.26),(2.59,18.24),(2.61,18.21),(2.65,18.19),(2.57,18.20),(2.63,18.16),(2.59,18.18),(2.65,18.11),(2.61,18.10),(2.67,18.04),(2.63,18.01),(2.69,17.99),(2.65,17.97),(2.67,17.93),(2.63,17.90),(2.69,17.88),(2.65,17.85),(2.67,17.81),(2.71,17.78),
(2.67,17.75),(2.70,17.69),(2.66,17.68),(2.71,17.66),(2.67,17.62),(2.73,17.58),(2.69,17.57),(2.71,17.52),(2.75,17.51),(2.73,17.47),(2.69,17.44),(2.75,17.43),(2.73,17.39),(2.77,17.36),(2.74,17.30),(2.78,17.27),(2.75,17.24),(2.79,17.20),(2.77,17.14),(2.81,17.15),
(2.79,17.09),(2.82,17.03),(2.78,17.00),(2.80,16.97),(2.83,16.93),(2.80,16.90),(2.84,16.83),(2.81,16.77),(2.85,16.72),(2.83,16.68),(2.86,16.62),(2.84,16.56),(2.87,16.50),(2.86,16.44),(2.89,16.38),(2.92,16.28),
(2.44,18.24),(2.46,18.19),(2.41,18.34),(2.38,18.37),(2.35,18.36),(2.47,18.48),(2.52,18.55),(2.56,18.57),(2.61,18.51),(2.66,18.46),(2.70,18.43),(2.73,18.41),(2.75,18.34),(2.77,18.30),(2.81,18.20),(2.83,18.13),(2.85,18.08),(2.80,18.04),(2.76,18.12),(2.72,18.18),
(2.74,18.07),(2.78,17.96),(2.82,17.97),(2.85,17.88),(2.80,17.85),(2.83,17.76),(2.87,17.70),(2.84,17.65),(2.81,17.62),(2.44,18.00),(2.47,18.06),(2.50,18.10),(2.52,18.06),(2.55,18.01),(2.58,18.03),(2.60,17.96),(2.56,17.93),(2.53,17.96),(2.50,17.93),(2.57,17.85),
(2.61,17.80),(2.58,17.78),(2.55,17.78),(2.60,17.72),(2.63,17.60),(2.65,17.50),(2.62,17.48),(2.59,17.50),(2.67,17.40),(2.65,17.33),(2.69,17.25),(2.66,17.22),(2.70,17.12),(2.73,17.05),(2.68,17.16),
]

# third reading: clumps inside the shallow column that the first two passes missed
shallow_clumps = [
(2.51,18.36),(2.55,18.35),(2.59,18.37),(2.53,18.40),(2.57,18.38),(2.61,18.41),(2.49,18.35),(2.47,18.38),(2.55,18.32),(2.59,18.33),(2.63,18.33),(2.65,18.37),(2.61,18.38),(2.53,18.26),(2.57,18.26),(2.51,18.24),(2.49,18.22),(2.55,18.20),(2.59,18.21),(2.67,18.24),
(2.69,18.22),(2.67,18.18),(2.71,18.13),(2.69,18.06),(2.65,18.06),(2.61,18.05),(2.59,18.11),(2.55,18.15),(2.53,18.18),(2.51,18.11),(2.57,18.08),(2.62,17.98),(2.59,17.92),(2.64,17.94),(2.72,17.94),(2.70,17.87),(2.66,17.78),(2.63,17.74),(2.60,17.82),(2.56,17.82),
(2.74,17.84),(2.78,17.88),(2.70,17.75),(2.74,17.72),(2.77,17.68),(2.68,17.66),(2.64,17.70),(2.70,17.60),(2.75,17.62),(2.78,17.56),(2.72,17.54),(2.67,17.56),(2.64,17.54),(2.71,17.46),(2.76,17.48),(2.79,17.42),(2.68,17.42),(2.74,17.37),(2.70,17.35),(2.78,17.34),
(2.72,17.30),(2.77,17.22),(2.72,17.22),(2.80,17.17),(2.75,17.12),(2.78,17.08),(2.74,17.04),(2.80,17.03),(2.76,17.00),(2.84,17.02),(2.79,16.96),(2.82,16.88),(2.76,16.88),(2.85,16.84),(2.80,16.80),(2.83,16.76),(2.79,16.70),(2.86,16.68),(2.81,16.62),(2.84,16.64),
(2.86,16.56),(2.82,16.52),(2.88,16.46),(2.84,16.44),(2.90,16.36),(2.86,16.34),(2.93,16.20),(2.90,16.20),(2.97,16.16),(2.94,16.14),(3.00,16.08),(2.96,16.04),(3.02,16.03),(3.05,16.08),(3.06,16.02),(3.01,15.99),(3.03,16.07),(2.99,15.94),(2.97,15.96),(2.94,15.92),
(2.90,17.30),(2.88,17.38),(2.86,17.20),(2.82,17.25),(2.50,17.58),(2.46,17.62),(2.54,17.62),(2.58,17.58),(2.40,17.92),(2.37,18.05),(2.42,18.10),(2.38,18.18),(2.34,18.24),(2.30,18.32),(2.86,18.40),(2.92,18.32),(2.90,18.45),(2.84,18.48),(2.76,18.50),(2.68,18.58),
]

shallow_blue = [
(1.08,17.20),(1.20,17.29),(1.22,17.43),(1.19,17.50),(1.23,16.80),(1.27,16.82),(1.25,17.20),(1.28,17.28),(1.30,17.50),(1.33,17.35),(1.34,17.37),(1.37,17.28),(1.38,17.30),(1.39,17.25),(1.40,17.41),(1.38,17.41),(1.36,17.45),(1.29,17.60),(1.32,17.58),(1.37,17.60),
(1.42,17.46),(1.43,17.50),(1.46,17.46),(1.47,17.28),(1.48,17.28),(1.45,17.09),(1.45,16.97),(1.42,17.09),(1.51,17.21),(1.50,17.40),(1.52,17.42),(1.53,17.40),(1.55,17.20),(1.55,16.96),(1.54,17.10),(1.56,17.22),(1.58,17.15),(1.59,17.00),(1.60,17.14),(1.63,16.97),
(1.59,17.36),(1.61,17.47),(1.63,17.55),(1.70,17.35),(1.71,17.41),(1.68,17.05),(1.70,16.84),(1.70,16.93),(1.74,16.95),(1.77,17.08),(1.64,16.87),(1.52,16.88),(1.52,17.53),(1.52,17.75),(1.49,17.67),(1.45,17.76),(1.42,17.70),(1.35,17.65),(1.32,17.79),(1.31,17.82),(1.36,17.95),
(1.33,17.76),(1.39,17.55),(1.44,17.58),(1.50,17.52),(1.32,17.18),(1.25,17.12),(1.15,17.10),(1.29,16.90),
]

deep_teal = "#008080"
orange = "#ff4500"
ink = "#3a3a3a"


def xs(p):
    return [v[0] for v in p]


def ys(p):
    return [v[1] for v in p]


fig = go.Figure()
for pts, size in ((deep_upper, 2.4), (deep_wedge, 2.4), (deep_halo, 2.4), (deep_halo_dense, 2.4), (deep_flank, 2.4),
                  (deep_field, 2.4), (deep_mid, 4), (deep_core, 9)):
    fig.add_trace(go.Scatter(x=xs(pts), y=ys(pts), mode="markers", xaxis="x", yaxis="y",
                             marker=dict(color=deep_teal, size=size, line_width=0), showlegend=False))
for pts in (shallow_upper, shallow_column, shallow_foot, shallow_clumps, shallow_blue):
    fig.add_trace(go.Scatter(x=xs(pts), y=ys(pts), mode="markers", xaxis="x2", yaxis="y2",
                             marker=dict(color=orange, size=2.4, line_width=0), showlegend=False))

common = dict(showline=True, mirror=True, linecolor="#dcdcdc", linewidth=2, showgrid=True, gridcolor="#cfcfcf",
              gridwidth=1.4, zeroline=False, ticks="outside", ticklen=5, tickwidth=1.2, tickcolor="#555555",
              tickfont=dict(size=11, color=ink), automargin=False)


def note(text, px, py, size, angle=0):
    return dict(text=text, x=px/914, y=1-py/522, xref="paper", yref="paper", showarrow=False, textangle=angle,
                xanchor="center", yanchor="middle", font=dict(size=size, color=ink))


xlab = "<i>u</i> − <i>g</i> [mag]"
ylab = "<i>u</i> [mag]"
fig.update_layout(
    width=914, height=522, margin=dict(l=0, r=0, t=0, b=0, autoexpand=False), paper_bgcolor="white", plot_bgcolor="white",
    font=dict(family="DejaVu Sans", color=ink),
    xaxis=dict(domain=[52/914, 439/914], range=[0, 5], tickvals=[0, 1, 2, 3, 4, 5], anchor="y", **common),
    yaxis=dict(domain=[45/522, 461/522], range=[19, 10], tickvals=list(range(10, 20)), anchor="x", **common),
    xaxis2=dict(domain=[517/914, 904/914], range=[1, 4.5], tickvals=[1, 1.5, 2, 2.5, 3, 3.5, 4, 4.5],
                ticktext=["1.0", "1.5", "2.0", "2.5", "3.0", "3.5", "4.0", "4.5"], anchor="y2", **common),
    yaxis2=dict(domain=[45/522, 461/522], range=[19.5, 14], tickvals=list(range(14, 20)), anchor="x2", **common),
    annotations=[
        note("Instrumental CMDs", 464.5, 15, 21),
        note("Deep Exposure", 245.5, 49, 19),
        note("Shallow Exposure", 711, 49, 19),
        note(xlab, 246, 508, 16.5),
        note(xlab, 711, 508, 16.5),
        note(ylab, 17, 277, 17, -90),
        note(ylab, 482, 277, 17, -90),
    ],
)
fig.write_html("out.html", config={"displayModeBar": False},
               post_script="document.body.style.margin='0';document.body.style.overflow='hidden';")
